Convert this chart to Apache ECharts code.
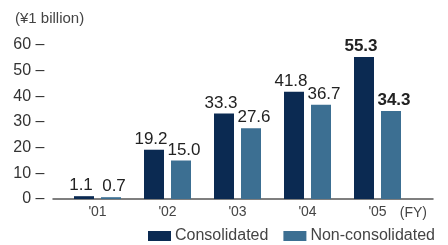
<!DOCTYPE html>
<html>
<head>
<meta charset="utf-8">
<script src="https://cdn.jsdelivr.net/npm/echarts@6/dist/echarts.min.js"></script>
<style>
    html, body { margin: 0; padding: 0; background: #fff; }
    #chart { width: 448px; height: 245px; }
</style>
</head>
<body>
<div id="chart"></div>
<script>
const years = ["'01", "'02", "'03", "'04", "'05"];
const consolidated = [1.1, 19.2, 33.3, 41.8, 55.3];
const nonConsolidated = [0.7, 15.0, 27.6, 36.7, 34.3];
const yTicks = [0, 10, 20, 30, 40, 50, 60];
const boldIndex = 4; // latest year is bold

const font = "Liberation Sans";
const navy = "#0b2a52";
const steel = "#3c6f92";

const labelFor = (i, dx) => ({
    show: true,
    position: "top",
    distance: 2,
    offset: [dx, 0],
    color: "#222",
    fontFamily: font,
    fontSize: 17,
    fontWeight: i === boldIndex ? "bold" : "normal",
    formatter: p => p.value.toFixed(1),
});

// dx nudges the value labels apart so neighbours don't collide
const makeSeries = (name, values, color, dx) => ({
    name,
    type: "bar",
    barWidth: 20,
    barGap: "35%",
    itemStyle: { color },
    data: values.map((v, i) => ({
        value: v,
        label: labelFor(i, dx),
    })),
});

const chart = echarts.init(document.getElementById("chart"));
chart.setOption({
    animation: false,
    textStyle: { fontFamily: font },
    grid: [
        { left: 62.5, right: 35.5, top: 45, bottom: 46 },
        // only used to draw the longer baseline
        { left: 53, right: 15, top: 45, bottom: 46 },
    ],
    title: {
        text: "(¥1 billion)",
        left: 15,
        top: 11,
        padding: 0,
        textStyle: { fontSize: 15, fontWeight: "normal", color: "#444", fontFamily: font },
    },
    legend: {
        bottom: 1,
        left: 148,
        padding: 0,
        itemWidth: 23,
        itemHeight: 10,
        itemGap: 15,
        icon: "rect",
        textStyle: { fontSize: 16, color: "#444", fontFamily: font, padding: [0, 0, 0, -1] },
        data: ["Consolidated", "Non-consolidated"],
    },
    xAxis: [
        {
            type: "category",
            gridIndex: 0,
            data: years,
            axisLine: { show: false },
            axisTick: { show: false },
            axisLabel: { color: "#444", fontSize: 14, margin: 6, fontFamily: font },
        },
        {
            type: "value",
            gridIndex: 1,
            min: 0,
            max: 1,
            axisLine: { show: true, lineStyle: { color: "#555", width: 1.5 } },
            axisTick: { show: false },
            axisLabel: { show: false },
            splitLine: { show: false },
            name: "(FY)",
            nameLocation: "end",
            nameGap: -6,
            nameTextStyle: {
                color: "#444",
                fontSize: 14,
                fontFamily: font,
                align: "right",
                verticalAlign: "top",
                padding: [7, 0, 0, 0],
            },
        },
    ],
    yAxis: [
        {
            type: "value",
            gridIndex: 0,
            min: yTicks[0],
            max: yTicks[yTicks.length - 1],
            interval: 10,
            axisLine: { show: false },
            axisTick: { show: false },
            splitLine: { show: false },
            axisLabel: {
                color: "#333",
                fontSize: 16,
                margin: 18,
                fontFamily: font,
                formatter: v => v + " \u2013",
            },
        },
        {
            type: "value",
            gridIndex: 1,
            show: false,
        },
    ],
    series: [
        makeSeries("Consolidated", consolidated, navy, -3),
        makeSeries("Non-consolidated", nonConsolidated, steel, 3),
    ],
});
</script>
</body>
</html>
